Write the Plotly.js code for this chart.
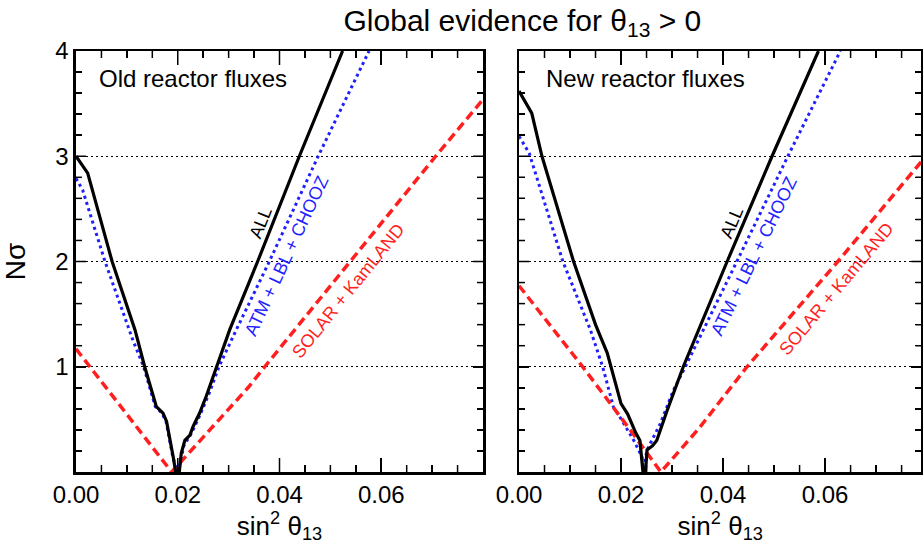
<!DOCTYPE html>
<html><head><meta charset="utf-8">
<script src="https://cdn.plot.ly/plotly-3.0.1.min.js"></script>
<style>html,body{margin:0;padding:0;background:#fff;overflow:hidden}#chart{width:923px;height:544px}</style>
</head><body><div id="chart"></div>
<script>
// ---- data ----
const oldAllX = [0, 0.0023, 0.0071, 0.0116, 0.0135, 0.0158, 0.0171, 0.0178, 0.0191, 0.0196, 0.0203, 0.0207, 0.0214, 0.0224, 0.0230, 0.0243, 0.0256, 0.0276, 0.0302, 0.0357, 0.0439, 0.0524];
const oldAllY = [3.00, 2.84, 2.00, 1.35, 1.00, 0.62, 0.56, 0.48, 0.145, 0.00, 0.00, 0.18, 0.30, 0.35, 0.43, 0.56, 0.72, 1.00, 1.35, 2.00, 3.00, 4.00];
const oldAtmX = [0, 0.0013, 0.0057, 0.0112, 0.0133, 0.0156, 0.0169, 0.0177, 0.0190, 0.0199, 0.0203, 0.0212, 0.0226, 0.0240, 0.0262, 0.0281, 0.0312, 0.0380, 0.0476, 0.0576];
const oldAtmY = [2.79, 2.68, 2.00, 1.25, 1.00, 0.62, 0.56, 0.48, 0.15, 0.00, 0.05, 0.25, 0.36, 0.50, 0.75, 1.00, 1.32, 2.00, 3.00, 4.00];
const oldSolarX = [0, 0.0106, 0.0188, 0.0338, 0.0371, 0.0707, 0.0800];
const oldSolarY = [1.17, 0.51, 0.00, 0.80, 1.00, 3.00, 3.54];

const newAllX = [0, 0.0025, 0.0045, 0.0107, 0.0150, 0.0173, 0.0200, 0.0213, 0.0229, 0.0237, 0.0243, 0.0248, 0.0251, 0.0262, 0.0270, 0.0290, 0.0322, 0.0408, 0.0496, 0.0587];
const newAllY = [3.62, 3.41, 3.00, 2.00, 1.40, 1.13, 0.65, 0.55, 0.37, 0.30, 0.00, 0.00, 0.21, 0.25, 0.30, 0.58, 1.00, 2.00, 3.00, 4.00];
const newAtmX = [0, 0.0020, 0.0086, 0.0140, 0.0164, 0.0185, 0.0198, 0.0225, 0.0241, 0.0244, 0.0251, 0.0277, 0.0303, 0.0326, 0.0427, 0.0527, 0.0630];
const newAtmY = [3.19, 3.03, 2.00, 1.35, 1.00, 0.62, 0.52, 0.30, 0.145, 0.03, 0.21, 0.46, 0.78, 1.00, 2.00, 3.00, 4.00];
const newSolarX = [0, 0.0120, 0.0218, 0.0278, 0.0352, 0.0447, 0.0625, 0.0789];
const newSolarY = [1.77, 1.03, 0.40, 0.00, 0.41, 1.00, 2.00, 2.95];

const xTickVals = [0, 0.02, 0.04, 0.06];
const xTickText = ['0.00', '0.02', '0.04', '0.06'];
const yTickVals = [1, 2, 3, 4];
const yTickText = ['1', '2', '3', '4'];

const panelLabels = ['Old reactor fluxes', 'New reactor fluxes'];
const curveLabels = ['ALL', 'ATM + LBL + CHOOZ', 'SOLAR + KamLAND'];

// ---- axis settings ----
const xRangeOld = [0, 0.08];
const xRangeNew = [0, 0.0789];
const yRange = [0, 4];
const xMinorStep = 0.005;
const yMinorStep = 0.2;
const W = 923, H = 544;
const xDomainOld = [0.08234, 0.52330];
const xDomainNew = [0.56230, 0.99837];
const yDomain = [0.13235, 0.90625];

// ---- styling ----
const FONT = 'Liberation Sans, Arial, Helvetica, sans-serif';
const BLACK = '#000000', BLUE = '#1f1fff', RED = '#ff1f1f';

function traces(xa, ya, allX, allY, atmX, atmY, solX, solY) {
  return [
    {x: atmX, y: atmY, xaxis: xa, yaxis: ya, mode: 'lines', line: {color: BLUE, width: 3, dash: '3px,3.5px'}, showlegend: false, hoverinfo: 'skip'},
    {x: solX, y: solY, xaxis: xa, yaxis: ya, mode: 'lines', line: {color: RED, width: 3.5, dash: '9px,5px'}, showlegend: false, hoverinfo: 'skip'},
    {x: allX, y: allY, xaxis: xa, yaxis: ya, mode: 'lines', line: {color: BLACK, width: 3.2}, showlegend: false, hoverinfo: 'skip'}
  ];
}

// inside tick marks on all four sides of a panel, drawn as one line trace through the panel's axes
function steps(lo, hi, step) {
  const out = [];
  for (let i = 1; lo + i * step < hi - 1e-9; i++) out.push(+(lo + i * step).toFixed(6));
  return out;
}
function tickTrace(xa, ya, xRange, xDomain) {
  const xPerPx = (xRange[1] - xRange[0]) / (W * (xDomain[1] - xDomain[0]));
  const yPerPx = (yRange[1] - yRange[0]) / (H * (yDomain[1] - yDomain[0]));
  const notMajor = (vals, majors) => vals.filter(v => !majors.some(t => Math.abs(t - v) < 1e-9));
  const xMinor = notMajor(steps(xRange[0], xRange[1], xMinorStep), xTickVals);
  const xMajor = xTickVals.filter(v => v > xRange[0] && v < xRange[1]);
  const yMinor = notMajor(steps(yRange[0], yRange[1], yMinorStep), yTickVals);
  const yMajor = yTickVals.filter(v => v > yRange[0] && v < yRange[1]);
  const X = [], Y = [];
  function seg(x0, y0, x1, y1) { X.push(x0, x1, null); Y.push(y0, y1, null); }
  function xt(v, len) {
    seg(v, yRange[0], v, yRange[0] + len * yPerPx);
    seg(v, yRange[1], v, yRange[1] - len * yPerPx);
  }
  function yt(v, len) {
    seg(xRange[0], v, xRange[0] + len * xPerPx, v);
    seg(xRange[1], v, xRange[1] - len * xPerPx, v);
  }
  xMinor.forEach(v => xt(v, 7));
  xMajor.forEach(v => xt(v, 14));
  yMinor.forEach(v => yt(v, 6));
  yMajor.forEach(v => yt(v, 10));
  return {x: X, y: Y, xaxis: xa, yaxis: ya, mode: 'lines', connectgaps: false,
          line: {color: BLACK, width: 1.5}, showlegend: false, hoverinfo: 'skip'};
}

const data = [].concat(
  [tickTrace('x', 'y', xRangeOld, xDomainOld), tickTrace('x2', 'y2', xRangeNew, xDomainNew)],
  traces('x', 'y', oldAllX, oldAllY, oldAtmX, oldAtmY, oldSolarX, oldSolarY),
  traces('x2', 'y2', newAllX, newAllY, newAtmX, newAtmY, newSolarX, newSolarY)
);

function xAxis(domain, range, anchor) {
  return {
    domain: domain, range: range, anchor: anchor,
    tickmode: 'array', tickvals: xTickVals, ticktext: xTickText,
    ticks: 'inside', ticklen: 14, tickwidth: 1.5, tickcolor: BLACK,
    showline: true, linewidth: 2.5, linecolor: BLACK, mirror: 'ticks',
    showgrid: false, zeroline: false,
    minor: {tickmode: 'linear', tick0: 0, dtick: xMinorStep, ticks: 'inside', ticklen: 7, tickwidth: 1.5, tickcolor: BLACK, showgrid: false},
    title: {text: 'sin<sup>2</sup> θ<sub>13</sub>', font: {family: FONT, size: 26, color: BLACK}, standoff: 2}
  };
}
function yAxis(anchor, labels) {
  return {
    domain: yDomain, range: yRange, anchor: anchor,
    tickmode: 'array', tickvals: yTickVals, ticktext: yTickText,
    showticklabels: labels,
    ticks: 'inside', ticklen: 10, tickwidth: 1.5, tickcolor: BLACK,
    showline: true, linewidth: 2.5, linecolor: BLACK, mirror: 'ticks',
    showgrid: true, gridcolor: BLACK, gridwidth: 1, griddash: '2px,3px',
    zeroline: false,
    minor: {tickmode: 'linear', tick0: 0, dtick: yMinorStep, ticks: 'inside', ticklen: 6, tickwidth: 1.5, tickcolor: BLACK, showgrid: false}
  };
}

const yaxis1 = yAxis('x', true);
yaxis1.title = {text: 'Nσ', font: {family: FONT, size: 28, color: BLACK}, standoff: 22};
const yaxis2 = yAxis('x2', false);

function rot(text, x, y, xref, yref, angle, color) {
  return {text: text, x: x, y: y, xref: xref, yref: yref, showarrow: false, textangle: angle,
          xanchor: 'center', yanchor: 'middle', font: {family: FONT, size: 18, color: color}};
}

const annotations = [
  {text: panelLabels[0], x: 0.0042, y: 3.74, xref: 'x', yref: 'y', showarrow: false, xanchor: 'left', yanchor: 'middle', font: {family: FONT, size: 24, color: BLACK}},
  {text: panelLabels[1], x: 0.0049, y: 3.74, xref: 'x2', yref: 'y2', showarrow: false, xanchor: 'left', yanchor: 'middle', font: {family: FONT, size: 24, color: BLACK}},
  rot(curveLabels[0], 0.0363, 2.365, 'x', 'y', -68, BLACK),
  rot(curveLabels[1], 0.0414, 2.05, 'x', 'y', -65, BLUE),
  rot(curveLabels[2], 0.0535, 1.72, 'x', 'y', -51, RED),
  rot(curveLabels[0], 0.0417, 2.365, 'x2', 'y2', -67, BLACK),
  rot(curveLabels[1], 0.0461, 2.05, 'x2', 'y2', -64, BLUE),
  rot(curveLabels[2], 0.0622, 1.74, 'x2', 'y2', -50, RED)
];

const layout = {
  width: W, height: H,
  margin: {l: 0, r: 0, t: 0, b: 0},
  paper_bgcolor: '#ffffff', plot_bgcolor: '#ffffff',
  font: {family: FONT, size: 24, color: BLACK},
  title: {text: 'Global evidence for θ<sub>13</sub> &gt; 0', x: 0.566, xanchor: 'center', xref: 'paper',
          y: 0.962, yanchor: 'middle', yref: 'container', font: {family: FONT, size: 30, color: BLACK}},
  xaxis: xAxis(xDomainOld, xRangeOld, 'y'),
  yaxis: yaxis1,
  xaxis2: xAxis(xDomainNew, xRangeNew, 'y2'),
  yaxis2: yaxis2,
  annotations: annotations,
  showlegend: false
};

Plotly.newPlot('chart', data, layout, {staticPlot: true, displayModeBar: false});
</script>
</body></html>
